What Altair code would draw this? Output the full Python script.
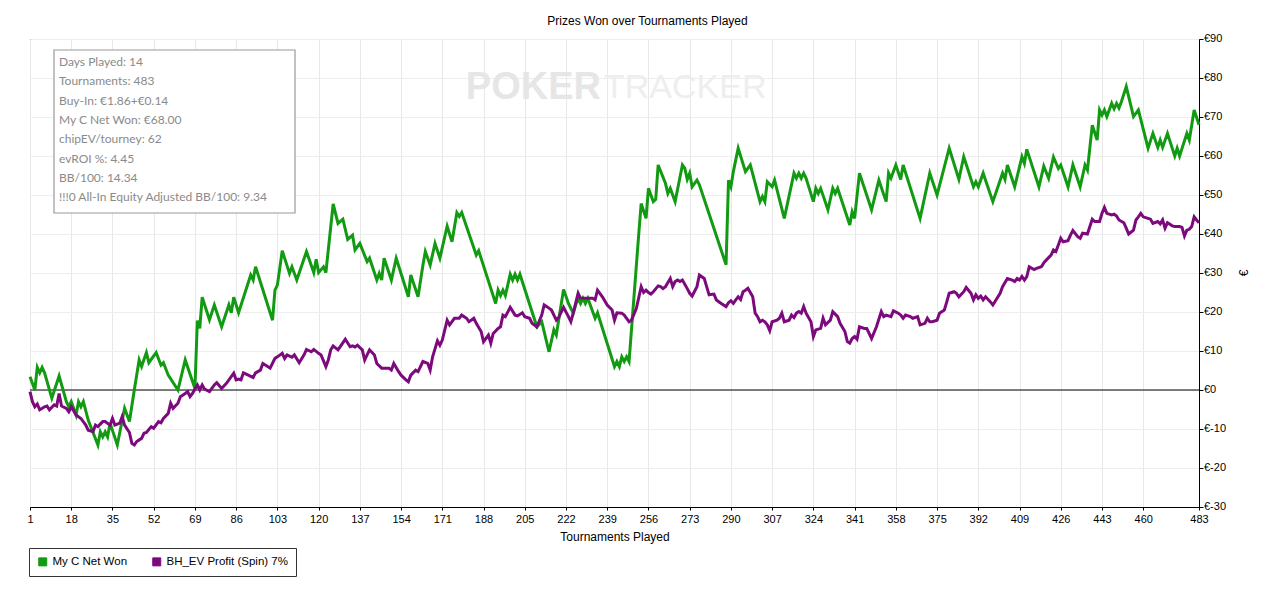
import altair as alt
import pandas as pd

# ---------------- data ----------------
green_t = [1, 3, 4, 5, 6, 7, 10, 13, 16, 17, 18, 20, 21, 22, 23, 25, 29, 30, 31, 32, 33, 34, 37, 40, 42, 44,
           46, 47, 49, 50, 53, 55, 56, 58, 62, 65, 69, 70, 71, 72, 75, 77, 80, 83, 84, 85, 87, 92, 93, 94,
           101, 102, 103, 105, 108, 109, 111, 115, 118, 119, 120, 122, 123, 126, 128, 130, 132, 134, 135,
           137, 140, 141, 144, 145, 146, 147, 150, 152, 157, 158, 161, 163, 164, 166, 168, 170, 173, 175,
           177, 178, 179, 185, 186, 193, 194, 195, 196, 197, 199, 200, 201, 202, 203, 210, 212, 215, 217,
           218, 221, 223, 225, 226, 227, 228, 229, 230, 231, 234, 235, 242, 243, 244, 245, 246, 247, 248,
           252, 253, 255, 256, 258, 259, 260, 263, 264, 265, 267, 270, 271, 272, 273, 274, 276, 277, 288,
           289, 290, 291, 293, 296, 298, 302, 303, 304, 305, 307, 308, 312, 316, 317, 318, 319, 320, 321,
           324, 325, 326, 327, 330, 332, 333, 334, 339, 340, 341, 343, 348, 351, 354, 355, 356, 358, 360,
           361, 368, 372, 375, 380, 384, 386, 390, 391, 392, 394, 398, 402, 403, 404, 407, 410, 411, 412,
           417, 419, 421, 423, 425, 426, 429, 431, 434, 436, 437, 439, 441, 442, 443, 444, 445, 447, 448,
           449, 450, 451, 453, 456, 458, 462, 464, 466, 467, 468, 470, 473, 474, 475, 478, 479, 481, 483]
green_v = [3.4, 0, 5.8, 4.4, 5.8, 4.4, -2.1, 3.6, -3.0, -4.3, -3.0, -6.4, -3.0, -4.3, -3.0, -7.7, -14.1,
           -10.7, -12, -10.7, -12, -8.5, -14.1, -4.7, -8.1, 0,
           7.7, 6, 9.6, 7, 9.6, 6.4, 7, 3.8, 0, 7.7, 0.4, 17.8, 15.8, 23.8, 18, 21.8, 16.2, 21.8, 19.8, 23.8,
           19.8, 29.5, 28.2, 31.6,
           17.9, 25.6, 26.9, 35.7, 29.9, 31.6, 28.2, 35.5, 30.1, 33.5, 30.1, 31.6, 30.1, 47.7, 42.7, 43.8,
           38.6, 39.7, 35.9,
           37.6, 32.9, 33.8, 28.2, 29.9, 28.2, 33.8, 28.2, 33.8, 23.9, 29.5, 23.9, 32, 35.5, 32, 37.6, 33.8,
           42, 38,
           45.5, 44.5, 45.5, 34.6, 35.7, 22.2, 25.6, 24.2, 25.6, 24.2, 29.7, 28.2, 29.7, 28.2, 29.7, 16.2,
           17.5, 9.8, 15.4,
           14.1, 25.8, 22.2, 19.7, 21.8, 23.5, 22.2, 23.5, 22.2, 23.5, 18.4, 19.8, 6, 7.3, 6, 8.5, 7.3, 8.5,
           7.3,
           40, 47.8, 44, 51.7, 48.3, 48.9, 57.7, 53, 50.4, 51.7, 48.3, 57.7, 56.8, 54, 55.6, 52.1, 53.8,
           52.6, 32.1,
           53.8, 52.1, 56, 62, 56, 57.7, 48.3, 49.6, 48.3, 53.4, 52.1, 53.8, 44, 55.6, 54.3, 55.6, 54.3,
           55.6, 54.3,
           48.3, 51.7, 50.4, 51.7, 46.2, 51.7, 50.4, 51.7, 42.3, 45.7, 44, 55.6, 46.2, 53.8, 48.3, 55.6,
           54.3, 57.7, 54,
           57.7, 44, 55.6, 50, 62, 54, 59.8, 52.1, 53.4, 52.1, 55.6, 48.3, 55.6, 54, 57.7, 52.1, 59.8, 58.1,
           61.7,
           52.1, 57.4, 54.3, 59.7, 56.8, 57.7, 52.1, 57.7, 52.1, 57.7, 56.4, 67.9, 64.1, 71.8, 70.5, 71.8,
           70.1, 73.5, 72.1,
           73.5, 72.3, 73.9, 77.8, 70.1, 71.8, 62, 65.8, 62.2, 64.1, 62.2, 65.8, 60, 62, 60, 65.8, 64.1,
           71.8, 68]

purple_t = [1, 2, 3, 4, 5, 7, 8, 9, 11, 12, 13, 14, 16, 17, 18, 20, 22, 24, 25, 27, 28, 29, 31, 32, 34,
            35, 36, 38, 39, 40, 42, 43, 44, 45, 47, 48, 49, 51, 52, 54, 55, 56, 58, 59, 60, 62, 63, 65,
            66, 67, 68, 70, 71, 72, 73, 75, 77, 78, 80, 82, 85, 86, 87, 88, 89, 91, 93, 94, 96, 97, 99,
            100, 102, 103, 105, 106, 107, 109, 110, 112, 114, 115, 117, 118, 120, 121, 123, 124, 125, 126,
            128, 131, 133, 134, 135, 136, 138, 139, 140, 141, 143, 144, 146, 148, 149, 150, 151, 153, 154,
            156, 157, 158, 160, 161, 163, 165, 166, 167, 169, 170, 171, 173, 174, 176, 178, 179, 181, 182,
            184, 185, 187, 188, 190, 191, 192, 194, 195, 196, 197, 199, 201, 202, 204, 205, 207, 208, 210,
            212, 213, 214, 215, 216, 218, 219, 221, 223, 224, 225, 227, 228, 230, 233, 234, 235, 237, 239,
            241, 242, 243, 245, 246, 248, 249, 251, 253, 254, 255, 256, 257, 258, 260, 261, 262, 263, 265,
            266, 267, 268, 269, 270, 272, 273, 274, 276, 277, 279, 280, 281, 283, 284, 286, 288, 289, 290,
            291, 292, 293, 294, 295, 296, 297, 299, 300, 301, 302, 303, 304, 305, 306, 307, 309, 310, 311,
            312, 314, 315, 316, 317, 318, 319, 320, 321, 323, 324, 325, 327, 328, 329, 331, 332, 334, 335,
            337, 338, 339, 340, 341, 342, 343, 345, 346, 348, 350, 352, 353, 354, 356, 357, 359, 360, 361,
            362, 364, 365, 367, 368, 370, 371, 372, 373, 375, 376, 378, 379, 380, 382, 383, 384, 386, 387,
            389, 390, 391, 392, 393, 394, 395, 397, 398, 401, 402, 404, 406, 407, 408, 409, 410, 411, 412,
            413, 415, 416, 418, 419, 420, 422, 423, 424, 425, 426, 427, 429, 430, 431, 433, 434, 435, 437,
            438, 439, 440, 442, 443, 444, 445, 447, 448, 449, 450, 452, 453, 454, 456, 457, 458, 459, 460,
            462, 463, 464, 466, 467, 468, 469, 470, 472, 473, 475, 476, 477, 478, 479, 480, 481, 482, 483]
purple_v = [-0.4, -3, -4.3, -3.6, -5.1, -4.3, -4.1, -5.1, -3.8, -4.1, -0.9, -4.1, -4.7, -5.6, -4.3, -6.4,
            -7.3, -9, -10.3, -10.7, -9, -9.4, -8.1, -8.1, -9,
            -7.3, -9, -8.5, -6.8, -9, -10.9, -13.7, -14.1, -13.2, -12.4, -11.1, -10.9, -9.4, -9.8, -8.1,
            -8.4, -7.3, -6, -3.4, -4.7, -3.4, -1.7, -0.9,
            -0.4, -1.7, -0.9, 1.3, 0, 1.3, 0.2, -0.4, 1.3, 1.9, 0.4, 1.7, 4.3, 2.6, 2.8, 2.6, 4.4, 3.8, 3.2,
            4.4, 5.1, 6.8, 6,
            5.6, 8.1, 8.5, 9.4, 8.1, 9, 8.4, 9, 7, 9, 10.4, 9.8, 10.4, 9.4, 9, 6, 7.7, 10.3, 11.3,
            10.3, 13, 11.1, 11.3, 11, 11.5, 10.3, 7.7, 9, 10.3, 9, 6.8, 5.6, 5.6, 5.6, 5.1, 6.8, 4.7, 3.8,
            2.6, 2.1, 3.8, 5.1, 4.7, 7.3, 6.8, 5.1, 8.5, 12.6, 11.5, 12.8, 17.9, 16.7, 18.4, 18.4, 19.2,
            18.4, 17.5,
            18.4, 17.1, 15, 12.4, 14.1, 12, 14.5, 15.8, 16.2, 19.2, 18.8, 21.2, 19.2, 19, 19.8, 18.8, 18.4,
            17.1, 16.2,
            19.2, 21.8, 21.4, 21, 20.5, 17.9, 18.6, 21.2, 18.8, 17.5, 19.8, 24.8, 23.5, 23.5, 23.5, 23.1,
            25.6, 23.9, 21.8,
            20.5, 17.9, 19.8, 19.7, 19.2, 17.5, 17.9, 20.9, 26.5, 25, 25.6, 25, 24.6, 25.2, 26.7, 26.5, 26,
            26.5, 28.6,
            26.5, 27.8, 28.2, 27.8, 28.2, 26, 24.8, 24.1, 26.5, 29.5, 28.6, 26.5, 24.4, 24.6, 23.1, 22.2,
            21.4, 22.4, 22.9,
            22.2, 23.1, 23.9, 23.2, 25.2, 25.6, 26.1, 23.9, 19.7, 18.8, 17.5, 17.9, 17.5, 16.7, 15.2, 17.5,
            17.9, 18.4, 19.7,
            17.5, 17.9, 19.2, 18.6, 19.7, 20.1, 19.7, 21.4, 19.7, 17.5, 13.7, 15.4, 15.8, 18.4, 16.7, 17.9,
            20.1, 18.8, 17.1,
            15, 12.4, 12, 13.2, 13.7, 13, 16.2, 15.8, 15.8, 13.2, 16.2, 20.1, 18.8, 19.2, 18.8, 20.3, 19.7,
            19.2, 18.4,
            19.2, 18.8, 18.4, 18.8, 16.7, 17.1, 18.4, 17.5, 17.5, 17.9, 19.7, 20.5, 22.6, 24.8, 25.2, 24.8,
            23.9, 25.2, 26.3,
            24.8, 23.1, 24.4, 23.5, 24.1, 23.1, 23.9, 22.6, 21.8, 24.8, 26.5, 28.6, 28.2, 27.8, 28.6, 28.2,
            29.1, 28.2, 29.1,
            31.6, 30.9, 31.2, 31.6, 32.6, 33.3, 34.6, 35.9, 35.5, 37.2, 38.9, 38, 38.3, 39.7, 40.9, 39.3,
            38.9, 40.2, 40,
            41.9, 43.8, 43.2, 43.2, 45.3, 46.8, 45.3, 44.9, 45.1, 44.6, 43.6, 42.9, 41.5, 40, 41, 43.6, 44.4,
            45.3, 44.4,
            44, 43.8, 42.7, 43.2, 42.6, 43.6, 41.5, 42.9, 42.1, 41.9, 41.9, 41.7, 39.5, 41, 41.2, 41.9, 44.4,
            43.6, 42.9]

series_names = ["My C Net Won", "BH_EV Profit (Spin) 7%"]
series_colors = ["#129a12", "#7d0a7d"]

x_ticks = [1, 18, 35, 52, 69, 86, 103, 120, 137, 154, 171, 188, 205, 222, 239, 256, 273, 290, 307,
           324, 341, 358, 375, 392, 409, 426, 443, 460, 483]
y_ticks = [-30, -20, -10, 0, 10, 20, 30, 40, 50, 60, 70, 80, 90]
y_labels = ["€-30", "€-20", "€-10", "€0", "€10", "€20", "€30", "€40", "€50", "€60", "€70", "€80", "€90"]

info_lines = ["Days Played: 14", "Tournaments: 483", "Buy-In: €1.86+€0.14", "My C Net Won: €68.00",
              "chipEV/tourney: 62", "evROI %: 4.45", "BB/100: 14.34",
              "!!!0 All-In Equity Adjusted BB/100: 9.34"]

chart_title = "Prizes Won over Tournaments Played"
x_title = "Tournaments Played"
y_title = "€"

# ---------------- build ----------------
df = pd.concat([
    pd.DataFrame({"t": green_t, "v": green_v, "series": series_names[0], "order": 1}),
    pd.DataFrame({"t": purple_t, "v": purple_v, "series": series_names[1], "order": 0}),
])
ylab_df = pd.DataFrame({"v": y_ticks, "label": y_labels})

W, H = 1169, 468
FONT = "Liberation Sans"

x_scale = alt.Scale(domain=[1, 483], nice=False, zero=False)
y_scale = alt.Scale(domain=[-30, 90], nice=False)
color_scale = alt.Scale(domain=series_names, range=series_colors)

legend_def = alt.Legend(
    title=None, orient="none", legendX=-1, legendY=509, direction="horizontal",
    symbolType="square", symbolSize=64, strokeColor="#333333", fillColor="white",
    padding=8, columnPadding=22, labelFont=FONT, labelFontSize=11.5,
    labelColor="black", labelOffset=4, symbolStrokeColor="black",
    symbolStrokeWidth=1, symbolOpacity=1)

x_axis = alt.Axis(values=x_ticks, title=x_title, labelFlush=False, tickSize=3,
                  grid=True, gridColor="#e8e8e8", domainColor="black", tickColor="black",
                  labelFontSize=11, titleFontSize=12, titleFontWeight="normal",
                  labelPadding=3, titlePadding=7, labelColor="black", titleColor="black",
                  labelFont=FONT, titleFont=FONT, labelOverlap=False)
y_axis = alt.Axis(orient="right", values=y_ticks, labels=False, title=None, tickSize=4,
                  grid=True, gridColor="#eeeeee", domainColor="black", tickColor="black")

one = pd.DataFrame({"a": [0]})

# info box
box = alt.Chart(one).mark_rect(fill="white", stroke="#9a9a9a", strokeWidth=1.2).encode(
    x=alt.value(24), x2=alt.value(265), y=alt.value(11), y2=alt.value(174))
info = alt.Chart(one).mark_text(text=info_lines, align="left", baseline="middle", lineHeight=19.3,
                                font="Lato", fontSize=12, color="#8a8a8a").encode(
    x=alt.value(29), y=alt.value(23))

# watermark
wm1 = alt.Chart(one).mark_text(text="POKER", align="right", baseline="middle", font=FONT,
                               fontSize=38, fontWeight="bold", color="#e6e6e6").encode(
    x=alt.value(571), y=alt.value(49))
wm2 = alt.Chart(one).mark_text(text="TRACKER", align="left", baseline="middle", font=FONT,
                               fontSize=34, color="#eeeeee").encode(
    x=alt.value(574), y=alt.value(49))

zero = alt.Chart(one).mark_rule(color="black", strokeWidth=1.2).encode(
    y=alt.Y(datum=0, scale=y_scale, axis=y_axis))

# right-hand y tick labels, placed through the y scale
ylabels = alt.Chart(ylab_df).mark_text(align="left", baseline="middle", font=FONT, fontSize=11,
                                       color="black").encode(
    y=alt.Y("v:Q", scale=y_scale, axis=y_axis),
    x=alt.value(W + 5),
    text="label:N",
)
ytitle = alt.Chart(one).mark_text(text=y_title, angle=270, align="center", baseline="middle", font=FONT,
                                  fontSize=12, color="black").encode(
    x=alt.value(W + 45), y=alt.value(H / 2))

# invisible squares: only give the legend its filled square symbols
squares = alt.Chart(df).mark_square(filled=True, stroke="black", strokeWidth=1, opacity=1).encode(
    x=alt.X("t:Q", scale=x_scale, axis=x_axis),
    y=alt.Y("v:Q", scale=y_scale, axis=y_axis),
    size=alt.value(0),
    color=alt.Color("series:N", scale=color_scale, legend=legend_def),
)

lines = alt.Chart(df).mark_line(strokeWidth=3, interpolate="linear").encode(
    x=alt.X("t:Q", scale=x_scale, axis=x_axis),
    y=alt.Y("v:Q", scale=y_scale, axis=y_axis),
    color=alt.Color("series:N", scale=color_scale, legend=legend_def),
    order=alt.Order("order:Q"),
    detail="series:N",
)

chart = alt.layer(box, info, wm1, wm2, zero, squares, lines, ylabels, ytitle).properties(
    width=W, height=H,
    title=alt.TitleParams(chart_title, font=FONT, fontSize=12, fontWeight="normal", color="black",
                          anchor="middle", dx=33, offset=5),
    autosize=alt.AutoSizeParams(type="none"),
    padding={"left": 22, "top": 31, "right": 73, "bottom": 81},
    background="white",
).configure_view(stroke="black", strokeWidth=1, clip=False)

chart.save("out.html", embed_options={"renderer": "svg", "actions": False})
